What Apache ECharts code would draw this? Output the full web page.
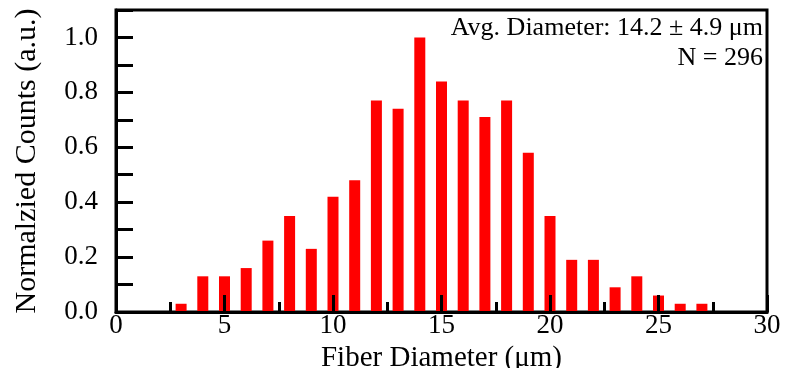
<!DOCTYPE html>
<html>
<head>
<meta charset="utf-8">
<script src="https://cdn.jsdelivr.net/npm/echarts@6/dist/echarts.min.js"></script>
<style>
  html, body { margin: 0; padding: 0; background: #fff; }
  #chart { width: 789px; height: 368px; }
</style>
</head>
<body>
<div id="chart"></div>
<script>
const diameters = [3, 4, 5, 6, 7, 8, 9, 10, 11, 12, 13, 14, 15, 16, 17, 18, 19, 20, 21, 22, 23, 24, 25, 26, 27]
const normCounts = [0.03, 0.13, 0.13, 0.16, 0.26, 0.35, 0.23, 0.42, 0.48, 0.77, 0.74, 1.0, 0.84, 0.77, 0.71, 0.77, 0.58, 0.35, 0.19, 0.19, 0.09, 0.13, 0.06, 0.03, 0.03]
const statLines = ['Avg. Diameter: 14.2 ± 4.9 μm', 'N = 296']

const font = '"Liberation Serif", "Times New Roman", serif'
const chart = echarts.init(document.getElementById('chart'))

chart.setOption({
  animation: false,
  grid: {
    left: 116, right: 22, top: 10, bottom: 56,
    outerBoundsMode: 'none',
    show: true, borderColor: '#000', borderWidth: 3,
  },
  xAxis: {
    type: 'value',
    z: 10,
    min: 0, max: 30, interval: 5,
    name: 'Fiber Diameter (μm)',
    nameLocation: 'middle',
    nameGap: 22,
    nameTextStyle: { fontFamily: font, fontSize: 29, color: '#000' },
    axisLine: { lineStyle: { color: '#000', width: 3 } },
    axisTick: { inside: true, length: 17, lineStyle: { color: '#000', width: 3 } },
    minorTick: { show: true, splitNumber: 2, length: 10, lineStyle: { color: '#000', width: 3 } },
    axisLabel: { fontFamily: font, fontSize: 27, color: '#000', margin: 0 },
    splitLine: { show: false },
  },
  yAxis: {
    type: 'value',
    z: 10,
    min: 0, max: 1.1, interval: 0.1,
    name: 'Normalzied Counts (a.u.)',
    nameLocation: 'middle',
    nameGap: 74,
    nameTextStyle: { fontFamily: font, fontSize: 30, color: '#000' },
    axisLine: { lineStyle: { color: '#000', width: 3 } },
    axisTick: { inside: true, length: 17, lineStyle: { color: '#000', width: 3 } },
    axisLabel: {
      fontFamily: font, fontSize: 27, color: '#000', margin: 18,
      formatter: (v) => (Math.round(v * 10) % 2 === 0 ? v.toFixed(1) : ''),
    },
    splitLine: { show: false },
  },
  graphic: statLines.map((t, i) => ({
    type: 'text',
    right: 26,
    top: 15 + i * 30,
    style: { text: t, font: '26px ' + font, fill: '#000', textAlign: 'right' },
  })),
  series: [
    {
      type: 'bar',
      barWidth: 11,
      itemStyle: { color: '#ff0000' },
      data: diameters.map((d, i) => [d, normCounts[i]]),
    },
  ],
})
</script>
</body>
</html>
